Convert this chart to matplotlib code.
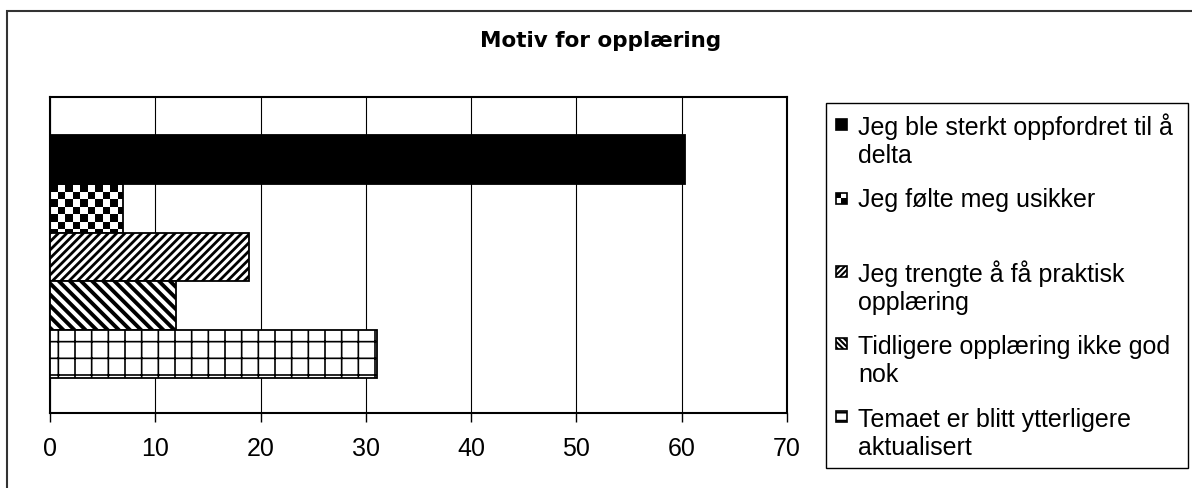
import numpy as np
import matplotlib
matplotlib.use("Agg")
import matplotlib.pyplot as plt
from matplotlib.patches import Rectangle

plt.rcParams['font.family'] = ['Liberation Sans', 'DejaVu Sans']
plt.rcParams['hatch.linewidth'] = 2.0

title = "Motiv for opplæring"
categories = [
    "Jeg ble sterkt oppfordret til å\ndelta",
    "Jeg følte meg usikker",
    "Jeg trengte å få praktisk\nopplæring",
    "Tidligere opplæring ikke god\nnok",
    "Temaet er blitt ytterligere\naktualisert",
]
values = [60.3, 6.9, 18.9, 12.0, 31.1]
xticks = [0, 10, 20, 30, 40, 50, 60, 70]
hatches = [None, 'checker', '////', '\\\\\\', '+']
legend_hatches = [None, 'checker', '//////', '//////'.replace('/', '\\'), '--']
hatch_lw = [None, None, 2.0, 2.8, 1.2]
faces = ['black', 'none', 'white', 'white', 'white']

W, H, DPI = 1192, 488, 100
fig = plt.figure(figsize=(W / DPI, H / DPI), dpi=DPI)

# overlay axes in pixel coordinates (frame, title, legend)
lax = fig.add_axes([0, 0, 1, 1], zorder=0)
lax.set_xlim(0, W)
lax.set_ylim(H, 0)
lax.axis('off')

ax = fig.add_axes([50 / W, 1 - 413 / H, 737 / W, 316 / H], zorder=1)
ax.patch.set_facecolor('white')


def set_hlw(p, lw):
    if lw is None:
        return
    try:
        p.set_hatch_linewidth(lw)
    except Exception:
        pass


ypos = np.arange(len(values))
bars = []
for i, (v, h, fc) in enumerate(zip(values, hatches, faces)):
    b = ax.barh(ypos[i], v, height=1.0, color=fc, edgecolor='black',
                linewidth=1.3, hatch=(h if h not in (None, 'checker') else None),
                zorder=3)[0]
    set_hlw(b, hatch_lw[i])
    bars.append(b)

ax.set_xlim(0, 70)
ax.set_ylim(len(values) - 1 + 1.21, -1.29)
ax.set_xticks(xticks)
ax.set_xticklabels([str(t) for t in xticks])
ax.set_yticks([])
ax.tick_params(axis='x', labelsize=18, length=6.5, width=1, pad=11, color='black')
ax.xaxis.grid(True, color='black', linewidth=0.8)
ax.set_axisbelow(True)
for s in ax.spines.values():
    s.set_linewidth(1.5)
    s.set_color('black')


def checker_fill(axis, patch, cell_px, zorder):
    x0, y0 = patch.get_x(), patch.get_y()
    w, h = patch.get_width(), patch.get_height()
    xl, yl = axis.get_xlim(), axis.get_ylim()
    ppx = axis.bbox.width / abs(xl[1] - xl[0])
    ppy = axis.bbox.height / abs(yl[1] - yl[0])
    cw, ch = cell_px / ppx, cell_px / ppy
    nx, ny = int(np.ceil(w / cw)), int(np.ceil(h / ch))
    img = (np.add.outer(np.arange(ny), np.arange(nx)) % 2 == 0).astype(float)
    im = axis.imshow(1 - img, cmap='gray', vmin=0, vmax=1, interpolation='nearest',
                     extent=[x0, x0 + nx * cw, y0 + ny * ch, y0], origin='upper',
                     aspect='auto', zorder=zorder)
    im.set_clip_path(patch)
    axis.set_xlim(xl)
    axis.set_ylim(yl)


checker_fill(ax, bars[1], 7.5, 2.5)

# outer frame
lax.add_patch(Rectangle((7, 11), W, H, facecolor='white', edgecolor='#333333',
                        linewidth=1.5, zorder=0))

# title
lax.text(601, 47, title, ha='center', va='baseline', fontsize=15.5,
         fontweight='bold', family=['DejaVu Sans'], zorder=2)

# legend box
lax.add_patch(Rectangle((826, 103), 362, 365, facecolor='white',
                        edgecolor='black', linewidth=1.0, zorder=1))
baselines = [133, 207, 280, 352, 425]
line_step = 30
for i, (lab, bl) in enumerate(zip(categories, baselines)):
    nextra = lab.count('\n')
    lax.text(858, bl + line_step * nextra, lab, ha='left', va='baseline',
             fontsize=18, linespacing=1.2, zorder=3)
    lh = legend_hatches[i]
    sq = Rectangle((836, bl - 14), 11, 11,
                   facecolor=faces[i] if faces[i] != 'none' else 'white',
                   edgecolor='black', linewidth=1.2, zorder=3,
                   hatch=(lh if lh not in (None, 'checker') else None))
    set_hlw(sq, None if lh in (None, 'checker') else 1.5)
    lax.add_patch(sq)
    if lh == 'checker':
        chk = np.array([[0, 1], [1, 0]], dtype=float)
        lax.imshow(chk, cmap='gray', vmin=0, vmax=1, interpolation='nearest',
                   extent=[836, 847, bl - 3, bl - 14], origin='upper',
                   aspect='auto', zorder=2.5)
        sq.set_facecolor('none')
lax.set_xlim(0, W)
lax.set_ylim(H, 0)

fig.savefig('out.png', dpi=DPI)
